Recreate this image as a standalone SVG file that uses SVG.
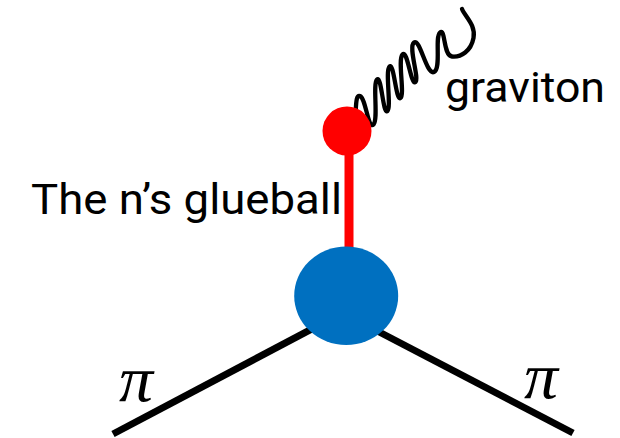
<svg xmlns="http://www.w3.org/2000/svg" width="620" height="438" viewBox="0 0 620 438">
<style>
.lbl{font-family:Roboto,"Liberation Sans",sans-serif;fill:#000;}
.pi{font-family:"Liberation Serif","DejaVu Serif",serif;font-style:italic;fill:#000;font-size:66px;}
.pion{stroke:#000;stroke-width:7;fill:none;}
</style>
<rect width="620" height="438" fill="#fff"/>
<g id="connectors">
<path id="graviton-line" d="M355,118 C356.5,110 355,94 360,96 C366,98.5 368,130 373.5,124.5 C378.5,119 372.5,84 377,79.5 C381.5,75 383,115.5 387.5,111 C391.5,107 385,71 389.5,66.5 C394,62 396,102 400.5,98 C405,94 397.5,60 402.5,54.5 C407.5,49 411,86.5 415.5,82 C419.5,78 408,47 414,42.5 C420,38 426.5,75.5 434,72 C441.5,68.5 434.5,37.5 440,32.5 C445.5,27.5 443,55.5 452,56.5 C461,57.5 471,51 473.5,38 C476,25 465,16.5 462,9" fill="none" stroke="#000" stroke-width="4.3" stroke-linecap="round" stroke-linejoin="round"/>
<line id="glueball-line" x1="349" y1="131" x2="349" y2="296" stroke="#ff0000" stroke-width="9"/>
<line id="pion-left" class="pion" x1="113" y1="434" x2="330" y2="319.4"/>
<line id="pion-right" class="pion" x1="573" y1="433" x2="362" y2="323"/>
</g>
<g id="glueball">
<circle cx="347" cy="131" r="24.5" fill="#ff0000"/>
</g>
<g id="vertex">
<ellipse cx="346.2" cy="295.8" rx="52" ry="49.2" fill="#0070c0"/>
</g>
<g id="labels">
<text class="lbl" x="445" y="102" font-size="42" textLength="160" lengthAdjust="spacingAndGlyphs">graviton</text>
<text class="lbl" x="31" y="213.5" font-size="43" textLength="311" lengthAdjust="spacingAndGlyphs">The n’s glueball</text>
<text class="pi" x="119" y="401" textLength="34" lengthAdjust="spacingAndGlyphs">π</text>
<text class="pi" x="524" y="398" textLength="34" lengthAdjust="spacingAndGlyphs">π</text>
</g>
</svg>
